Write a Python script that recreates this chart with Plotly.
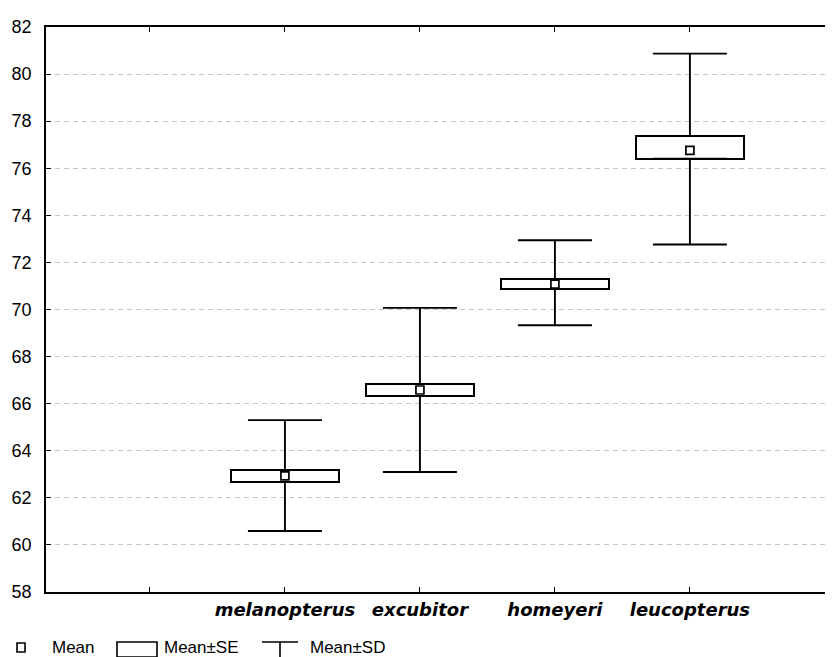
import plotly.graph_objects as go

species = ["melanopterus", "excubitor", "homeyeri", "leucopterus"]
mean = [62.93, 66.58, 71.08, 76.76]
se_low = [62.68, 66.33, 70.87, 76.41]
se_high = [63.18, 66.83, 71.29, 77.37]
sd_low = [60.59, 63.10, 69.33, 72.76]
sd_high = [65.30, 70.07, 72.94, 80.87]
y_ticks = [58, 60, 62, 64, 66, 68, 70, 72, 74, 76, 78, 80, 82]

xpos = list(range(1, len(species) + 1))

# the page body has an 8px margin; size the figure so that it fills the window
OFF = 8
W, H = 833 - OFF, 657 - OFF
L, R, T, B = 46 - OFF, 0, 27 - OFF, 65

fig = go.Figure()

# Mean±SD whiskers (upper and lower parts, outside the SE box)
fig.add_trace(go.Scatter(
    x=xpos, y=se_high, mode="markers", marker=dict(size=1, color="rgba(0,0,0,0)"),
    error_y=dict(type="data", symmetric=False,
                 array=[h - s for h, s in zip(sd_high, se_high)],
                 arrayminus=[0] * len(species),
                 color="black", thickness=1.9, width=37),
    showlegend=False, hoverinfo="skip"))
fig.add_trace(go.Scatter(
    x=xpos, y=se_low, mode="markers", marker=dict(size=1, color="rgba(0,0,0,0)"),
    error_y=dict(type="data", symmetric=False,
                 array=[0] * len(species),
                 arrayminus=[s - l for s, l in zip(se_low, sd_low)],
                 color="black", thickness=1.9, width=37),
    showlegend=False, hoverinfo="skip"))

# Mean±SE boxes
fig.add_trace(go.Bar(
    x=xpos, y=[h - l for h, l in zip(se_high, se_low)], base=se_low, width=0.8,
    marker=dict(color="white", line=dict(color="black", width=2)),
    showlegend=False, hoverinfo="skip"))

# Mean markers
fig.add_trace(go.Scatter(
    x=xpos, y=mean, mode="markers",
    marker=dict(symbol="square", size=8, color="white", line=dict(color="black", width=1.7)),
    showlegend=False))

sans = "Liberation Sans, Arial, sans-serif"

fig.update_layout(
    width=W, height=H,
    margin=dict(l=L, r=R, t=T, b=B),
    paper_bgcolor="white", plot_bgcolor="white",
    bargap=0,
    xaxis=dict(
        range=[-0.77, 5.06], tickmode="array",
        tickvals=[0] + xpos, ticktext=[""] + species,
        showline=True, linecolor="black", linewidth=1.8, mirror="ticks",
        ticks="inside", ticklen=5, tickcolor="black", tickwidth=1.2,
        showgrid=False, zeroline=False,
        tickfont=dict(family="DejaVu Sans", size=18, color="black", weight="bold", style="italic"),
        ticklabelstandoff=0,
    ),
    yaxis=dict(
        range=[58, 82], tickmode="array", tickvals=y_ticks,
        ticktext=[str(v) for v in y_ticks],
        showline=True, linecolor="black", linewidth=1.8,
        ticks="inside", ticklen=5, tickcolor="black", tickwidth=1.2,
        showgrid=True, gridcolor="#c4c4c4", gridwidth=1, griddash="5px,4px",
        zeroline=False,
        tickfont=dict(family=sans, size=18, color="black"),
        ticklabelstandoff=9,
    ),
)

# Legend drawn at the bottom (window pixel positions converted to paper coordinates)
pw = W - L - R
ph = H - T - B

def px(x):
    return (x - OFF - L) / pw

def py(y):
    return (H - B - (y - OFF)) / ph

legend_font = dict(family=sans, size=17, color="black")
shapes = [
    dict(type="rect", xref="paper", yref="paper", x0=px(17), x1=px(25), y0=py(652), y1=py(643),
         line=dict(color="black", width=1.6), fillcolor="white"),
    dict(type="rect", xref="paper", yref="paper", x0=px(117), x1=px(157), y0=py(657), y1=py(642),
         line=dict(color="black", width=1.6), fillcolor="white"),
    dict(type="line", xref="paper", yref="paper", x0=px(262), x1=px(298), y0=py(642), y1=py(642),
         line=dict(color="black", width=1.6)),
    dict(type="line", xref="paper", yref="paper", x0=px(280), x1=px(280), y0=py(642), y1=py(658),
         line=dict(color="black", width=1.6)),
]
for s in shapes:
    fig.add_shape(**s)

for text, x in [("Mean", 50), ("Mean±SE", 162), ("Mean±SD", 308)]:
    fig.add_annotation(text=text, xref="paper", yref="paper", x=px(x), y=py(648),
                       xanchor="left", yanchor="middle", showarrow=False, font=legend_font)

fig.write_html("out.html")
